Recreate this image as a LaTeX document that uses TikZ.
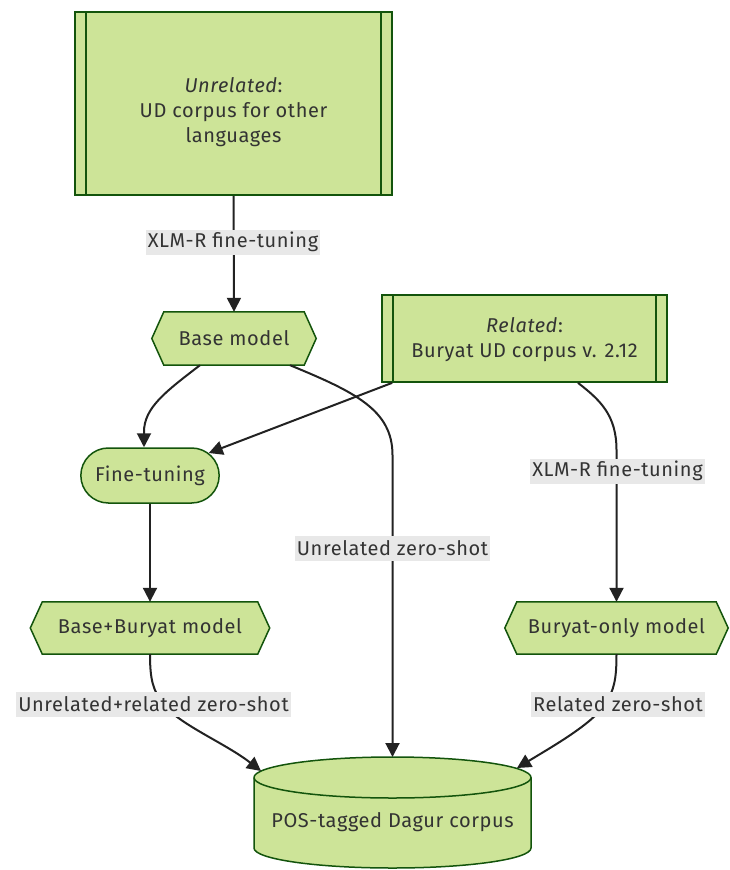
\documentclass[tikz,border=0pt]{standalone}
\usepackage{fontspec}
\setmainfont{Fira Sans}[LetterSpace=3]
\usetikzlibrary{arrows.meta,shapes.misc,backgrounds,calc}
\definecolor{nodefill}{HTML}{CDE498}
\definecolor{nodestroke}{HTML}{13540C}
\definecolor{txtc}{HTML}{333333}
\definecolor{lblbg}{HTML}{E8E8E8}
\definecolor{edgec}{HTML}{222222}
\tikzset{
  txtstyle/.style={font=\fontsize{20}{25}\selectfont, text=txtc},
  subr/.style={draw=nodestroke, fill=nodefill, line width=1.7pt, rectangle, inner sep=0pt},
  subrline/.style={draw=nodestroke, line width=1.7pt},
  hexnode/.style={txtstyle, rectangle, inner sep=0pt},
  hexshape/.style={draw=nodestroke, fill=nodefill, line width=1.5pt},
  stadium/.style={txtstyle, rounded rectangle, draw=nodestroke, fill=nodefill, line width=1.5pt, minimum width=145pt, minimum height=55pt},
  cylshape/.style={draw=nodestroke, fill=nodefill, line width=1.5pt},
  elabel/.style={txtstyle, fill=lblbg, inner xsep=2pt, inner ysep=0pt, minimum height=25pt},
  conn/.style={draw=edgec, line width=2pt, -{Triangle[length=14pt,width=14pt]}},
}
\newcommand\myhex[2]{%
  \path[hexshape] (#1.west) -- ([xshift=#2pt]#1.north west) -- ([xshift=-#2pt]#1.north east) -- (#1.east) -- ([xshift=-#2pt]#1.south east) -- ([xshift=#2pt]#1.south west) -- cycle;}
\begin{document}
\begin{tikzpicture}[x=1pt,y=-1pt]
\useasboundingbox (0,0) rectangle (730,870);

% subroutine boxes
\node[subr, minimum width=317pt, minimum height=183pt] (unrel) at (233.5,103.5) {};
\draw[subrline] ([xshift=12pt]unrel.north west) -- ([xshift=12pt]unrel.south west);
\draw[subrline] ([xshift=-12pt]unrel.north east) -- ([xshift=-12pt]unrel.south east);
\node[txtstyle, align=center] (unreltxt) at (233.5,112) {\textit{Unrelated}:\\UD corpus for other\\languages};

\node[subr, minimum width=285pt, minimum height=87pt] (rel) at (524.5,338.5) {};
\draw[subrline] ([xshift=12pt]rel.north west) -- ([xshift=12pt]rel.south west);
\draw[subrline] ([xshift=-12pt]rel.north east) -- ([xshift=-12pt]rel.south east);
\node[txtstyle, align=center] (reltxt) at (524.5,339.5) {\textit{Related}:\\Buryat UD corpus v. 2.12};

% hexagons
\node[hexnode, minimum width=164pt, minimum height=53pt] (basem) at (234,338.5) {Base model};
\node[hexnode, minimum width=239pt, minimum height=52pt] (bb) at (150,628) {Base+Buryat model};
\node[hexnode, minimum width=223pt, minimum height=52pt] (bo) at (616.5,628) {Buryat-only model};
\begin{scope}[on background layer]
  \myhex{basem}{12}
  \myhex{bb}{12}
  \myhex{bo}{12}
\end{scope}

% stadium
\node[stadium] (ft) at (150,475.5) {Fine-tuning};

% cylinder
\path[cylshape] (254,777.5) -- (254,848) arc[start angle=180,end angle=360,x radius=138.5pt,y radius=20pt]
  -- (531,777.5) arc[start angle=0,end angle=180,x radius=138.5pt,y radius=20.5pt] -- cycle;
\draw[nodestroke, line width=1.5pt] (254,777.5) arc[start angle=180,end angle=360,x radius=138.5pt,y radius=20.5pt];
\node[txtstyle] (dagur) at (392.5,822) {POS-tagged Dagur corpus};
\coordinate (dagtop) at (392.5,757);
\coordinate (dagtl) at (261,771);
\coordinate (dagtr) at (517,768);

% edges
\draw[conn] (unrel.south) -- (basem.north);
\draw[conn] ([xshift=-34pt]basem.south) .. controls (165,392) and (144,408) .. (144,432) -- ([xshift=-6pt]ft.north);
\draw[conn] ([xshift=11pt]rel.south west) -- (ft);
\draw[conn] ([xshift=56pt]basem.south) .. controls (355,392) and (392.5,410) .. (392.5,455) -- (dagtop);
\draw[conn] ([xshift=53.5pt]rel.south) .. controls (600,400) and (616.5,415) .. (616.5,450) -- (bo.north);
\draw[conn] (ft.south) -- (bb.north);
\draw[conn] (bb.south) .. controls (150,680) and (153,690) .. (163,704) .. controls (180,725) and (225,743) .. (dagtl);
\draw[conn] (bo.south) .. controls (616.5,680) and (614,690) .. (605,705) .. controls (590,725) and (555,745) .. (dagtr);

% edge labels
\node[elabel] (lab1) at (233,242) {XLM-R fine-tuning};
\node[elabel] (lab2) at (392.5,548.5) {Unrelated zero-shot};
\node[elabel] (lab3) at (617.5,471) {XLM-R fine-tuning};
\node[elabel] (lab4) at (153.5,704.5) {Unrelated+related zero-shot};
\node[elabel] (lab5) at (618,704.5) {Related zero-shot};
\end{tikzpicture}
\end{document}
